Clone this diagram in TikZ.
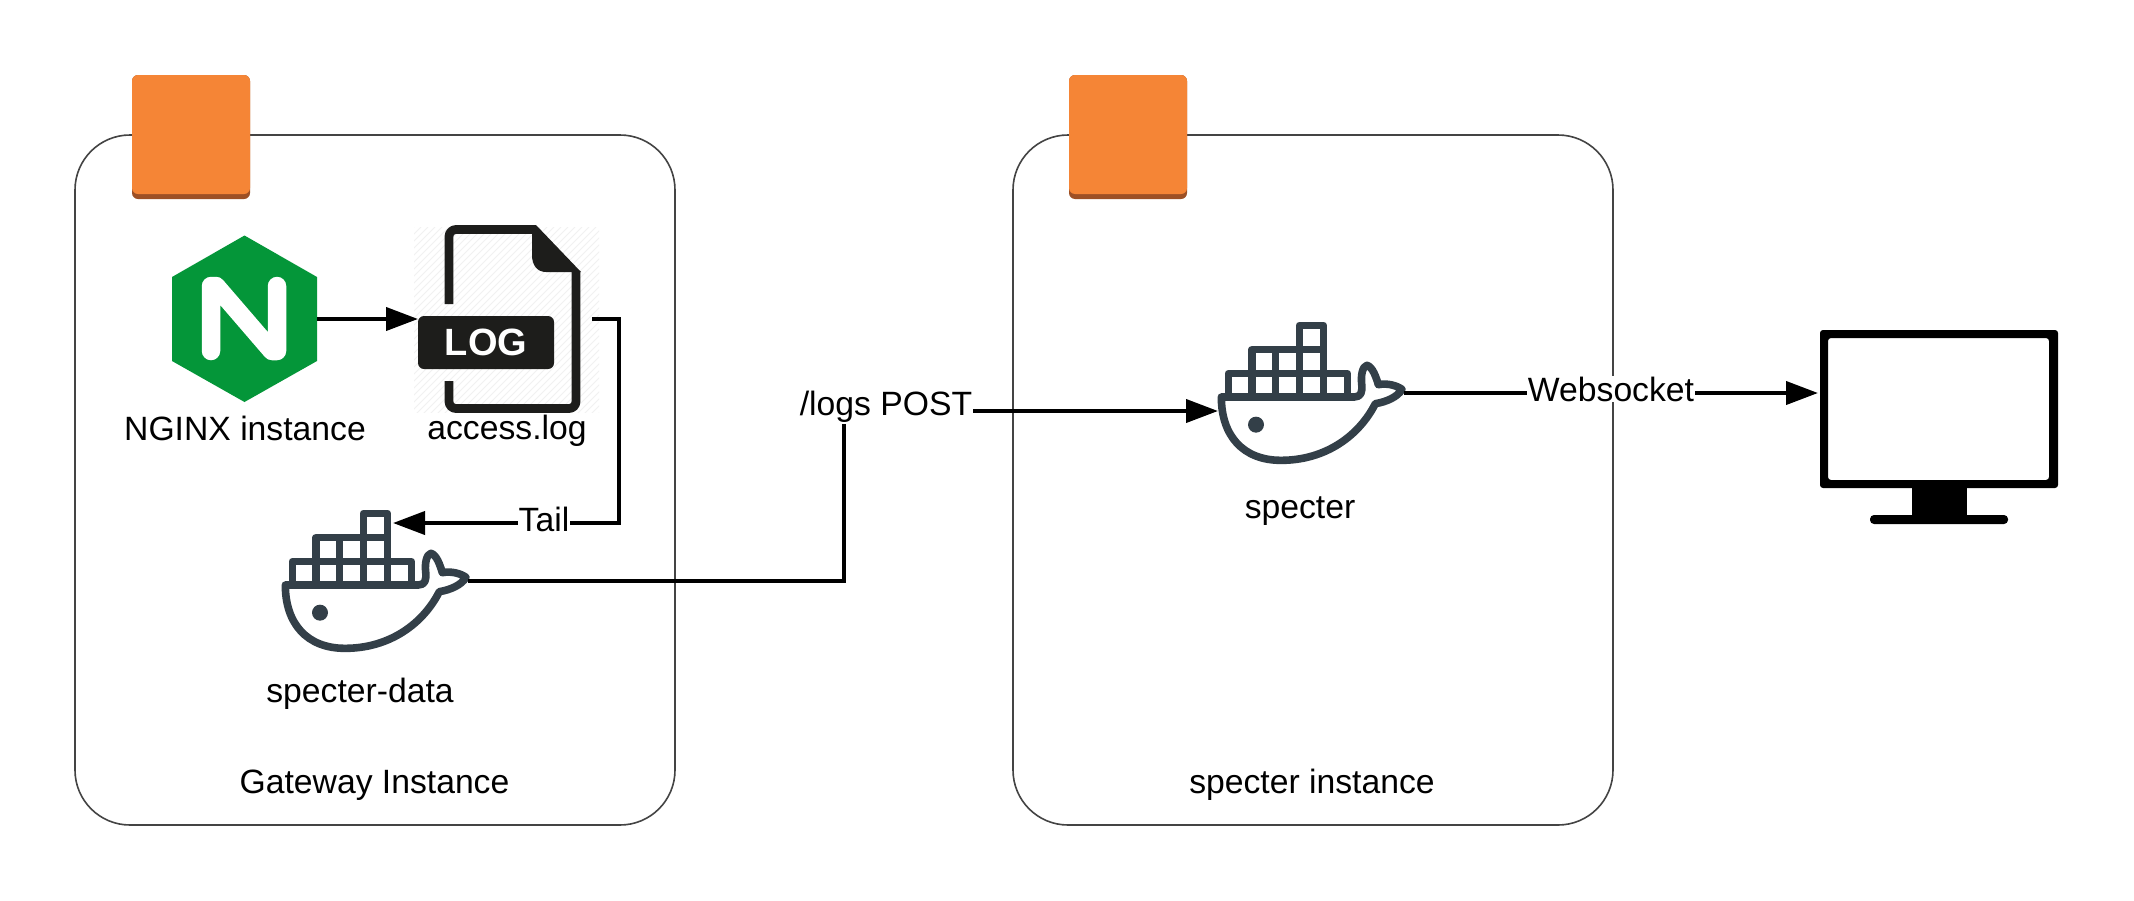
\documentclass[tikz,border=0pt]{standalone}
\usepackage{fontspec}
\setmainfont{Liberation Sans}
\usetikzlibrary{arrows.meta}
\definecolor{awsorange}{HTML}{F58536}
\definecolor{awsshade}{HTML}{9D5025}
\definecolor{nginxgreen}{HTML}{049639}
\definecolor{whalecol}{HTML}{333F48}
\definecolor{logblack}{HTML}{1D1D1B}
\definecolor{hatchcol}{HTML}{F1F1F1}
\definecolor{boxline}{HTML}{444444}
\tikzset{
  instancebox/.style={draw=boxline,line width=1.6pt,fill=white,rounded corners=55pt},
  conn/.style={draw=black,line width=4pt,-{Triangle[length=32pt,width=23pt]}},
  txt/.style={font=\fontsize{33.7}{36}\selectfont,inner sep=0pt,text=black},
  linklabel/.style={txt,fill=white,inner sep=1pt},
  awschip/.pic={
    \fill[awsshade,rounded corners=6pt] (0,0) rectangle (118,124);
    \fill[awsorange,rounded corners=6pt] (0,0) rectangle (118,119);
  },
  whale/.pic={
    \begin{scope}[scale=1/3]
      \draw[whalecol,line width=7.6pt,line join=round]
        (340,100) rectangle (412,173)
        (198,173) rectangle (412,245)
        (127,245) rectangle (484,315)
        (268,173) -- (268,315)
        (340,173) -- (340,315)
        (198,245) -- (198,315)
        (412,245) -- (412,315);
      \draw[whalecol,line width=7.6pt,line join=round,line cap=round]
        (106,315) -- (505,315)
        .. controls (525,315) and (530,300) .. (527,275)
        .. controls (524,250) and (530,222) .. (543,220)
        .. controls (560,225) and (570,255) .. (577,278)
        .. controls (605,272) and (635,282) .. (648,292)
        .. controls (635,315) and (600,330) .. (568,335)
        .. controls (520,430) and (420,505) .. (285,505)
        .. controls (170,505) and (106,430) .. (106,315) -- cycle;
      \fill[whalecol] (210,398) circle (24);
    \end{scope}
    \coordinate (-top) at (143,43);
    \coordinate (-tail) at (218,101);
    \coordinate (-west) at (32,119);
  }
}
\begin{document}
\begin{tikzpicture}[x=1pt,y=-1pt]
\useasboundingbox (0,0) rectangle (2134,900);
\fill[white] (0,0) rectangle (2134,900);

% instance boxes
\draw[instancebox] (75,135) rectangle (675,825);
\draw[instancebox] (1013,135) rectangle (1613,825);
\pic at (132,75) {awschip};
\pic at (1069,75) {awschip};

% log file icon
\begin{scope}
  \clip (414,227) rectangle (599,412);
  \foreach \k in {0,7,...,380}
    \draw[hatchcol,line width=1pt] (414+\k,227) -- (414+\k-190,417);
\end{scope}
\draw[logblack,line width=8.8pt,line join=round,rounded corners=7pt]
  (449,304) -- (449,229.5) -- (534,229.5) (576,272) -- (576,408.5) -- (449,408.5) -- (449,381);
\fill[logblack] (532,225) -- (536,225) -- (581,272) -- (546,272)
  .. controls (537,272) and (532,265) .. (532,255) -- cycle;
\node[draw=none,fill=logblack,rounded corners=6pt,minimum width=136pt,minimum height=53pt,
      inner sep=0pt,font=\fontsize{38}{40}\bfseries\selectfont,text=white] (logfile) at (486,342.5) {\raisebox{-1pt}{LOG}};
\coordinate (login) at (418,319);
\coordinate (logout) at (592,319);

% nginx
\fill[nginxgreen] (244.5,235.5) -- (317,277) -- (317,361) -- (244.5,402) -- (172,361) -- (172,277) -- cycle;
\draw[white,line width=18.5pt,line cap=round,line join=round]
  (211,351) -- (211,286) -- (216,286) -- (272,351) -- (277,351) -- (277,286);
\coordinate (nginxout) at (317,319);

% docker whales
\pic (dataw) at (250,480) {whale};
\pic (specw) at (1186,292) {whale};

% monitor
\fill[black,rounded corners=3pt,even odd rule] (1820,330) rectangle (2058,488) (1828,338) rectangle (2049,480);
\fill[black] (1912,485) rectangle (1967,517);
\fill[black,rounded corners=4pt] (1870,515) rectangle (2008,524);
\coordinate (monitorin) at (1818,393);

% connectors
\coordinate (tailbend1) at (619,319);
\coordinate (tailbend2) at (619,523);
\draw[conn] (logout) -- (tailbend1) -- (tailbend2) -- (dataw-top);
\draw[conn] (nginxout) -- (login);
\coordinate (postbend1) at (844,581);
\coordinate (postbend2) at (844,411);
\draw[conn] (dataw-tail) -- (postbend1) -- (postbend2) -- (specw-west);
\draw[conn] (specw-tail) -- (monitorin);

% connector labels
\node[linklabel] (taillabel) at (544,519) {Tail};
\node[linklabel] (postlabel) at (886,407) {/logs POST};
\node[linklabel] (wslabel) at (1611,389) {Websocket};

% labels
\node[txt] (nginxlabel) at (245,428) {NGINX instance};
\node[txt] (accesslabel) at (507,431) {access.log};
\node[txt] (datalabel) at (360,694) {specter-data};
\node[txt] (speclabel) at (1300,511) {specter};
\node[txt] (gwlabel) at (374.5,785) {Gateway Instance};
\node[txt] (silabel) at (1312,785) {specter instance};
\end{tikzpicture}
\end{document}
